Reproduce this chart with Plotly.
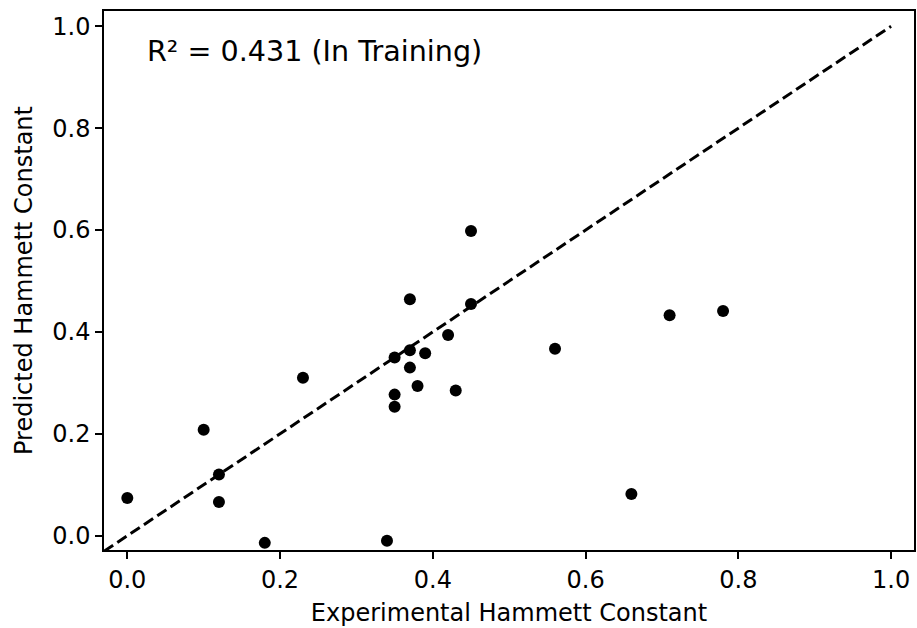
import plotly.graph_objects as go

experimental = [0.00, 0.10, 0.12, 0.12, 0.18, 0.23, 0.34, 0.35, 0.35, 0.35, 0.37, 0.37, 0.37,
                0.38, 0.39, 0.42, 0.43, 0.45, 0.45, 0.56, 0.66, 0.71, 0.78]
predicted = [0.074, 0.208, 0.120, 0.066, -0.014, 0.310, -0.010, 0.350, 0.277, 0.253, 0.364, 0.464, 0.330,
             0.294, 0.358, 0.394, 0.285, 0.598, 0.455, 0.367, 0.082, 0.433, 0.441]
r2_text = "R² = 0.431 (In Training)"
x_range = [-0.0305, 1.03]
y_range = [-0.028, 1.03]
ticks = [0.0, 0.2, 0.4, 0.6, 0.8, 1.0]
tick_labels = ["0.0", "0.2", "0.4", "0.6", "0.8", "1.0"]
diag = [x_range[0], 1.0]

font = "DejaVu Sans"

fig = go.Figure()
fig.add_trace(go.Scatter(x=diag, y=diag, mode="lines",
                         line=dict(color="black", width=3, dash="11px,5px"),
                         hoverinfo="skip", showlegend=False, cliponaxis=True))
fig.add_trace(go.Scatter(x=experimental, y=predicted, mode="markers",
                         marker=dict(color="black", size=12, line=dict(width=0)),
                         showlegend=False, cliponaxis=False))

axis_common = dict(showgrid=False, zeroline=False, showline=True, mirror=True,
                   linecolor="black", linewidth=1.5, ticks="outside", ticklen=7,
                   tickwidth=1.5, tickcolor="black",
                   tickfont=dict(family=font, size=24, color="black"),
                   tickvals=ticks, ticktext=tick_labels)

fig.update_xaxes(range=x_range, title=dict(text="Experimental Hammett Constant",
                 font=dict(family=font, size=24, color="black"), standoff=12), **axis_common)
fig.update_yaxes(range=y_range, title=dict(text="Predicted Hammett Constant",
                 font=dict(family=font, size=24, color="black"), standoff=13), **axis_common)

fig.add_annotation(text=r2_text, xref="x domain", yref="y domain", x=0.051, y=0.926,
                   xanchor="left", yanchor="middle", showarrow=False,
                   font=dict(family=font, size=28.6, color="black"))

fig.update_layout(width=917, height=628, margin=dict(l=104, r=1, t=11, b=78),
                  plot_bgcolor="white", paper_bgcolor="white")

fig.write_html("out.html")
